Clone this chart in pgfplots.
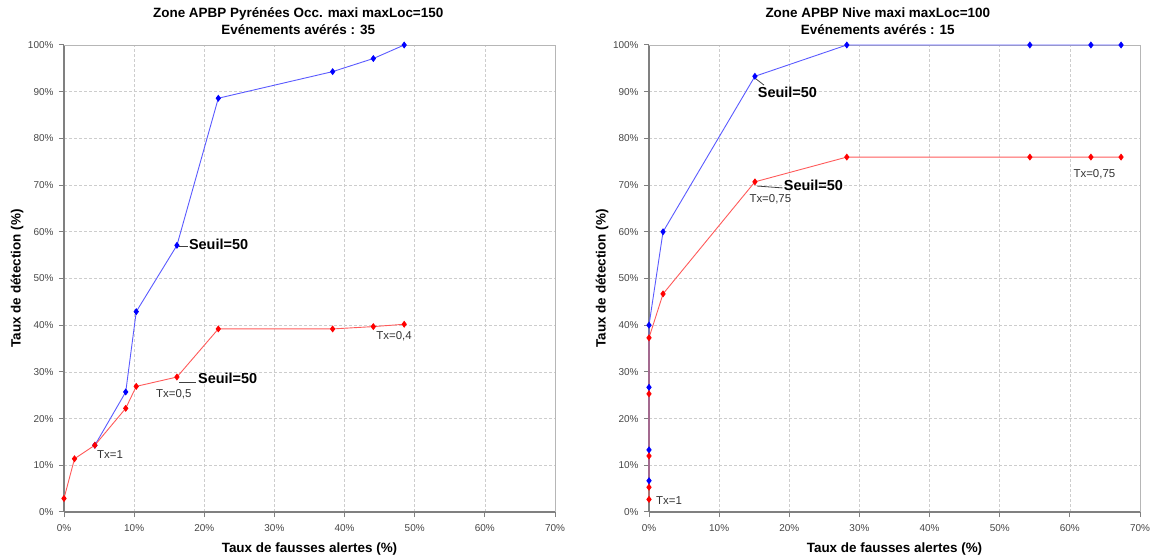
\documentclass[border=0pt]{standalone}
\usepackage{pgfplots}
\pgfplotsset{compat=1.18}
\usepackage{fontspec}
\setmainfont{Liberation Sans}
\definecolor{bluL}{RGB}{90,90,255}
\definecolor{redL}{RGB}{255,90,90}
\definecolor{tickc}{RGB}{70,70,70}
\definecolor{gridc}{RGB}{205,205,205}
\definecolor{axc}{RGB}{128,128,128}
\tikzset{
  seuil/.style={font=\bfseries\fontsize{14.5}{16}\selectfont, anchor=west, inner sep=0pt},
  txl/.style={font=\fontsize{11.5}{13}\selectfont, text=black!80, anchor=west, inner sep=0pt},
}
\pgfplotsset{
  myax/.style={
    scale only axis, width=491bp, height=467bp, anchor=south west,
    xmin=0, xmax=70, ymin=0, ymax=100,
    xtick={0,10,20,30,40,50,60,70},
    xticklabels={0\%,10\%,20\%,30\%,40\%,50\%,60\%,70\%},
    ytick={0,10,20,30,40,50,60,70,80,90,100},
    yticklabels={0\%,10\%,20\%,30\%,40\%,50\%,60\%,70\%,80\%,90\%,100\%},
    axis x line*=bottom, axis y line*=left,
    axis line style={draw=axc, line width=1.4bp, -},
    tick align=outside, major tick length=5bp,
    tick style={draw=axc, line width=1bp},
    ticklabel style={font=\fontsize{10}{12}\selectfont, text=tickc},
    xticklabel style={yshift=-4bp},
    yticklabel style={xshift=-2bp},
    grid=major,
    major grid style={draw=gridc, dash pattern=on 2.5bp off 2.5bp, line width=0.7bp},
    xlabel={Taux de fausses alertes (\%)},
    ylabel={Taux de détection (\%)},
    label style={font=\bfseries\fontsize{13.5}{16}\selectfont},
    xlabel style={at={(axis description cs:0.5,0)}, anchor=center, yshift=-37bp},
    ylabel style={at={(axis description cs:0,0.5)}, anchor=center, yshift=47bp},
    title style={font=\bfseries\fontsize{13.5}{17}\selectfont, align=center, anchor=south, yshift=0.5bp},
    clip=false,
  },
  bser/.style={color=bluL, line width=0.9bp, mark=diamond*, mark size=2.8bp, mark options={draw=blue, fill=blue}},
  rser/.style={color=redL, line width=0.9bp, mark=diamond*, mark size=2.8bp, mark options={draw=red, fill=red}},
}
\begin{document}
\begin{tikzpicture}
\useasboundingbox (0,0) rectangle (1153bp,558bp);
% Left chart
\begin{axis}[myax, at={(64bp,46bp)},
  title={Zone APBP Pyrénées Occ. maxi maxLoc=150\\Evénements avérés : 35},
  title style={at={(axis description cs:0.477,1)}}]
\draw[gridc!70!gray, line width=0.9bp] (rel axis cs:0,1) -- (rel axis cs:1,1) -- (rel axis cs:1,0);
\addplot[bser] coordinates {(4.4,14.3) (8.8,25.7) (10.3,42.9) (16.1,57.1) (22.0,88.6) (38.3,94.3) (44.1,97.1) (48.5,100)};
\addplot[rser] coordinates {(0,2.9) (1.5,11.4) (4.4,14.3) (8.8,22.2) (10.3,26.9) (16.1,28.9) (22.0,39.2) (38.3,39.2) (44.1,39.7) (48.5,40.2)};
\draw[black!75, line width=0.8bp] (axis cs:16.4,56.8) -- (axis cs:17.7,56.8);
\node[seuil] at (axis cs:17.8,57.4) {Seuil=50};
\draw[black!75, line width=0.8bp] (axis cs:16.4,27.8) -- (axis cs:18.8,27.8);
\node[seuil] at (axis cs:19.1,28.7) {Seuil=50};
\node[txl] at (axis cs:13.1,25.3) {Tx=0,5};
\node[txl] at (axis cs:4.7,12.4) {Tx=1};
\node[txl] at (axis cs:44.5,37.7) {Tx=0,4};
\end{axis}
% Right chart
\begin{axis}[myax, at={(649bp,46bp)},
  title={Zone APBP Nive maxi maxLoc=100\\Evénements avérés : 15},
  title style={at={(axis description cs:0.466,1)}}]
\draw[gridc!70!gray, line width=0.9bp] (rel axis cs:0,1) -- (rel axis cs:1,1) -- (rel axis cs:1,0);
\addplot[bser] coordinates {(0,6.7) (0,13.3) (0,26.7) (0,40) (2.0,60) (15.1,93.3) (28.2,100) (54.3,100) (63.0,100) (67.3,100)};
\addplot[rser] coordinates {(0,2.7) (0,5.3) (0,12) (0,25.3) (0,37.3) (2.0,46.7) (15.1,70.7) (28.2,76) (54.3,76) (63.0,76) (67.3,76)};
\draw[black!75, line width=0.8bp] (axis cs:15.2,92.8) -- (axis cs:16.4,91.4);
\node[seuil] at (axis cs:15.5,89.9) {Seuil=50};
\draw[black!75, line width=0.8bp] (axis cs:15.4,69.8) -- (axis cs:19.0,69.4);
\node[seuil] at (axis cs:19.2,70.0) {Seuil=50};
\node[txl] at (axis cs:14.3,67.0) {Tx=0,75};
\node[txl] at (axis cs:60.5,72.4) {Tx=0,75};
\node[txl] at (axis cs:1.0,2.4) {Tx=1};
\end{axis}
\end{tikzpicture}
\end{document}
